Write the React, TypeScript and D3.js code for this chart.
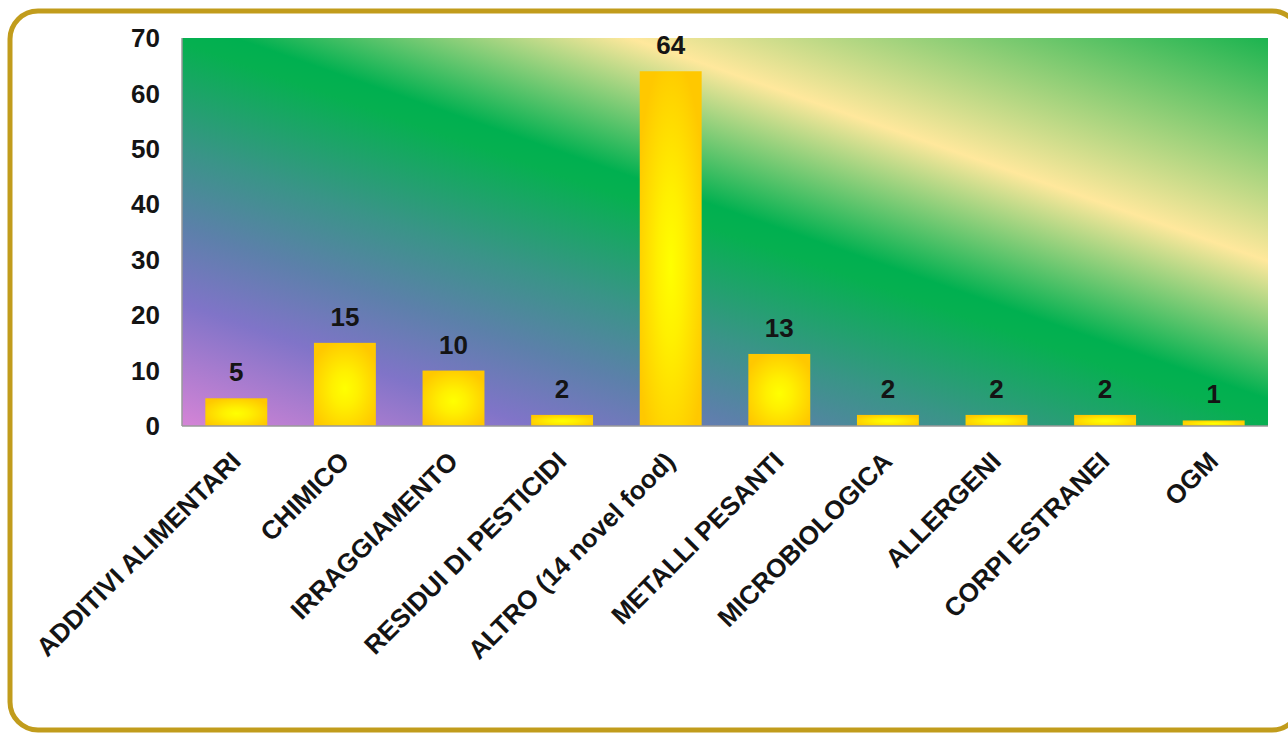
import React from "react";
import * as d3 from "d3";

const categories: string[] = [
  "ADDITIVI ALIMENTARI",
  "CHIMICO",
  "IRRAGGIAMENTO",
  "RESIDUI DI PESTICIDI",
  "ALTRO (14 novel food)",
  "METALLI PESANTI",
  "MICROBIOLOGICA",
  "ALLERGENI",
  "CORPI ESTRANEI",
  "OGM",
];
const values: number[] = [5, 15, 10, 2, 64, 13, 2, 2, 2, 1];
const yTicks: number[] = [0, 10, 20, 30, 40, 50, 60, 70];

const WIDTH = 1288;
const HEIGHT = 734;
const PLOT = { left: 182, right: 1268, top: 38, bottom: 426 };
const FONT = "'Liberation Sans', Arial, sans-serif";

export default function App() {
  const W = PLOT.right - PLOT.left;
  const H = PLOT.bottom - PLOT.top;

  const x = d3.scaleBand<string>().domain(categories).range([0, W]).paddingInner(0.43).paddingOuter(0.215);
  const y = d3.scaleLinear().domain([0, 70]).range([H, 0]);

  // background gradient direction (perpendicular to the bands)
  const ux = 0.33, uy = -0.944, len = 724;
  const gx1 = 0, gy1 = H;
  const gx2 = gx1 + ux * len, gy2 = gy1 + uy * len;

  return (
    <svg
      width={WIDTH}
      height={HEIGHT}
      style={{ position: "absolute", left: 0, top: 0, background: "#fff" }}
      fontFamily={FONT}
    >
      <defs>
        <linearGradient id="bg" gradientUnits="userSpaceOnUse" x1={gx1} y1={gy1} x2={gx2} y2={gy2}>
          <stop offset="0" stopColor="#D584D6" />
          <stop offset="0.16" stopColor="#8074C8" />
          <stop offset="0.26" stopColor="#5C80AA" />
          <stop offset="0.36" stopColor="#3A9488" />
          <stop offset="0.5" stopColor="#06B050" />
          <stop offset="0.53" stopColor="#00B050" />
          <stop offset="0.71" stopColor="#FFE89C" />
          <stop offset="1" stopColor="#1CB450" />
        </linearGradient>
        <radialGradient id="bar" cx="50%" cy="55%" r="60%">
          <stop offset="0" stopColor="#FFFF00" />
          <stop offset="0.35" stopColor="#FFF000" />
          <stop offset="1" stopColor="#FFC800" />
        </radialGradient>
      </defs>

      <rect x={10} y={11} width={1290} height={719} rx={28} ry={28} fill="#fff" stroke="#C19C1C" strokeWidth={5} />

      <g transform={`translate(${PLOT.left},${PLOT.top})`}>
        <rect x={0} y={0} width={W} height={H} fill="url(#bg)" />
        {categories.map((c, i) => (
          <rect
            key={c}
            x={x(c)}
            y={y(values[i])}
            width={x.bandwidth()}
            height={H - y(values[i])}
            fill="url(#bar)"
          />
        ))}
        <line x1={0} x2={0} y1={0} y2={H} stroke="#9a9a9a" strokeWidth={1.5} />
        <line x1={0} x2={W} y1={H} y2={H} stroke="#9a9a9a" strokeWidth={1.5} />
        {categories.map((c, i) => (
          <text
            key={"v" + c}
            x={(x(c) as number) + x.bandwidth() / 2}
            y={y(values[i]) - 17}
            textAnchor="middle"
            fontSize={26}
            fontWeight="bold"
            fill="#141414"
          >
            {values[i]}
          </text>
        ))}
        {yTicks.map((t) => (
          <text
            key={"t" + t}
            x={-22}
            y={y(t)}
            dy="0.35em"
            textAnchor="end"
            fontSize={26}
            fontWeight="bold"
            fill="#141414"
          >
            {t}
          </text>
        ))}
        {categories.map((c) => {
          const cx = (x(c) as number) + x.bandwidth() / 2 + 6;
          const cy = H + 37;
          return (
            <text
              key={"c" + c}
              transform={`translate(${cx},${cy}) rotate(-45)`}
              textAnchor="end"
              fontSize={26}
              fontWeight="bold"
              fill="#141414"
            >
              {c}
            </text>
          );
        })}
      </g>
    </svg>
  );
}
